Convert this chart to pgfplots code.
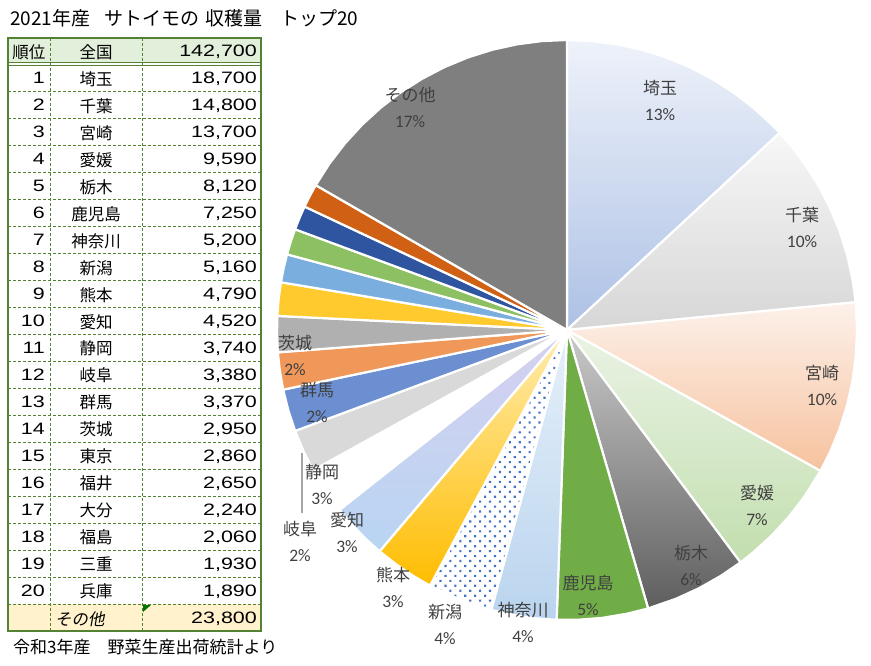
\documentclass[border=0pt]{standalone}
\usepackage{fontspec}
\setmainfont{Noto Sans CJK JP}
\newfontfamily\cjkslant[FakeSlant=0.18]{Noto Sans CJK JP}
\newfontfamily\numf{Liberation Sans}
\newfontfamily\pctf{Carlito}
\usepackage{graphicx}
\usepackage{pgfplots}
\pgfplotsset{compat=1.18}
\usepgfplotslibrary{polar}
\usetikzlibrary{patterns.meta}

\definecolor{tgreen}{HTML}{548235}
\definecolor{thead}{HTML}{E2EFDA}
\definecolor{tother}{HTML}{FFF2CC}
\definecolor{labc}{HTML}{404040}
\definecolor{dotc}{HTML}{4472C4}
\definecolor{aT}{HTML}{EEF2FA}\definecolor{aB}{HTML}{ADC1E5}
\definecolor{bT}{HTML}{F7F7F7}\definecolor{bB}{HTML}{D6D6D6}
\definecolor{cT}{HTML}{FDF1EA}\definecolor{cB}{HTML}{F6C29E}
\definecolor{dT}{HTML}{EAF3E5}\definecolor{dB}{HTML}{C2DEAE}
\definecolor{eT}{HTML}{CACACA}\definecolor{eB}{HTML}{5E5E5E}
\definecolor{fS}{HTML}{70AD47}
\definecolor{gT}{HTML}{E6F0FA}\definecolor{gB}{HTML}{BAD4EE}
\definecolor{iT}{HTML}{FFEDB0}\definecolor{iB}{HTML}{FFBD00}
\definecolor{jT}{HTML}{D6D0F0}\definecolor{jB}{HTML}{B8D5F2}
\definecolor{lS}{HTML}{D9D9D9}
\definecolor{mS}{HTML}{6B8FD0}
\definecolor{nS}{HTML}{F0975A}
\definecolor{oS}{HTML}{B0B0B0}
\definecolor{pS}{HTML}{FFCA2E}
\definecolor{qS}{HTML}{7AAEDE}
\definecolor{rS}{HTML}{8CC063}
\definecolor{sS}{HTML}{2F55A1}
\definecolor{tS}{HTML}{D06014}
\definecolor{uS}{HTML}{7F7F7F}
\definecolor{leadc}{HTML}{A6A6A6}

\newcommand\tnum[1]{\scalebox{1.3}[1]{\numf #1}}
\newcommand\tfont{\fontsize{16.5}{18}\selectfont}

\pgfplotsset{pieslice/.style={draw=white, line width=2.2pt, line join=round, mark=none}}

\begin{document}
\begin{tikzpicture}[x=1pt,y=1pt]
\path[use as bounding box] (0,0) rectangle (871,665);

% ---- pie (angle, radius)
\begin{polaraxis}[at={(277pt,45pt)}, anchor=south west, width=580pt, height=580pt, scale only axis,
  xmin=0, xmax=360, ymin=0, ymax=1, hide axis, clip=false]
% 埼玉 18700
\addplot[pieslice, top color=aT, bottom color=aB] coordinates {(0,0) (90,1) (85,1) (80,1) (75,1) (70,1) (65,1) (60,1) (55,1) (50,1) (45,1) (42.824,1) (0,0)};
% 千葉 14800
\addplot[pieslice, top color=bT, bottom color=bB] coordinates {(0,0) (42.824,1) (40,1) (35,1) (30,1) (25,1) (20,1) (15,1) (10,1) (5.487,1) (0,0)};
% 宮崎 13700
\addplot[pieslice, top color=cT, bottom color=cB] coordinates {(0,0) (5.487,1) (0,1) (355,1) (350,1) (345,1) (340,1) (335,1) (330.925,1) (0,0)};
% 愛媛 9590
\addplot[pieslice, top color=dT, bottom color=dB] coordinates {(0,0) (330.925,1) (325,1) (320,1) (315,1) (310,1) (306.731,1) (0,0)};
% 栃木 8120
\addplot[pieslice, top color=eT, bottom color=eB] coordinates {(0,0) (306.731,1) (302,1) (297,1) (292,1) (286.246,1) (0,0)};
% 鹿児島 7250
\addplot[pieslice, fill=fS] coordinates {(0,0) (286.246,1) (282,1) (277,1) (272,1) (267.956,1) (0,0)};
% 神奈川 5200
\addplot[pieslice, top color=gT, bottom color=gB] coordinates {(0,0) (267.956,1) (264,1) (260,1) (254.838,1) (0,0)};
% 新潟 5160
\addplot[pieslice, fill=white, postaction={pattern={Dots[distance=7pt, radius=1.5pt, angle=45]}, pattern color=dotc}] coordinates {(0,0) (254.838,1) (251,1) (246,1) (241.820,1) (0,0)};
% 熊本 4790
\addplot[pieslice, top color=iT, bottom color=iB] coordinates {(0,0) (241.820,1) (238,1) (234,1) (229.736,1) (0,0)};
% 愛知 4520
\addplot[pieslice, top color=jT, bottom color=jB] coordinates {(0,0) (229.736,1) (226,1) (222,1) (218.333,1) (0,0)};
% 静岡 3740
\addplot[pieslice, fill=white] coordinates {(0,0) (218.333,1) (214,1) (208.898,1) (0,0)};
% 岐阜 3380
\addplot[pieslice, fill=lS] coordinates {(0,0) (208.898,1) (205,1) (200.371,1) (0,0)};
% 群馬 3370
\addplot[pieslice, fill=mS] coordinates {(0,0) (200.371,1) (196,1) (191.869,1) (0,0)};
% 茨城 2950
\addplot[pieslice, fill=nS] coordinates {(0,0) (191.869,1) (188,1) (184.427,1) (0,0)};
% 東京 2860
\addplot[pieslice, fill=oS] coordinates {(0,0) (184.427,1) (181,1) (177.212,1) (0,0)};
% 福井 2650
\addplot[pieslice, fill=pS] coordinates {(0,0) (177.212,1) (174,1) (170.527,1) (0,0)};
% 大分 2240
\addplot[pieslice, fill=qS] coordinates {(0,0) (170.527,1) (168,1) (164.876,1) (0,0)};
% 福島 2060
\addplot[pieslice, fill=rS] coordinates {(0,0) (164.876,1) (162,1) (159.679,1) (0,0)};
% 三重 1930
\addplot[pieslice, fill=sS] coordinates {(0,0) (159.679,1) (157,1) (154.810,1) (0,0)};
% 兵庫 1890
\addplot[pieslice, fill=tS] coordinates {(0,0) (154.810,1) (152.5,1) (150.042,1) (0,0)};
% その他 23800
\addplot[pieslice, fill=uS] coordinates {(0,0) (150.042,1) (145,1) (140,1) (135,1) (130,1) (125,1) (120,1) (115,1) (110,1) (105,1) (100,1) (95,1) (90,1) (0,0)};
\end{polaraxis}

\begin{scope}[y=-1pt, yshift=665pt]
% ---- title
\node[anchor=base west, inner sep=0] at (10,26) {\fontsize{19}{22}\selectfont 2021年産\hspace{14pt}サトイモの\hspace{6pt}収穫量\hspace{18pt}トップ20};

% ---- table
\fill[thead] (8,38) rectangle (261,63);
\fill[tother] (8,604) rectangle (261,631);
\foreach \k in {1,...,20}{
  \draw[tgreen, line width=0.9pt, dash pattern=on 3pt off 2pt] (8,{65+26.95*\k}) -- (261,{65+26.95*\k});
}
\draw[tgreen, line width=0.9pt] (8,62.3) -- (261,62.3);
\draw[tgreen, line width=0.9pt] (8,65.5) -- (261,65.5);
\draw[tgreen, line width=0.9pt, dash pattern=on 3pt off 2pt] (50,38) -- (50,631);
\draw[tgreen, line width=0.9pt, dash pattern=on 3pt off 2pt] (142,38) -- (142,631);
\draw[tgreen, line width=1.1pt] (8,38) rectangle (261,631);
\fill[green!45!black] (143,605) -- (151,605) -- (143,612) -- cycle;

\node[anchor=base, inner sep=0] at (29,59) {\tfont 順位};
\node[anchor=base, inner sep=0] at (96,59) {\tfont 全国};
\node[anchor=base east, inner sep=0] at (257,57) {\tfont\tnum{142,700}};

\foreach \rk/\pr/\va [count=\i] in {1/埼玉/{18,700},2/千葉/{14,800},3/宮崎/{13,700},4/愛媛/{9,590},5/栃木/{8,120},6/鹿児島/{7,250},7/神奈川/{5,200},8/新潟/{5,160},9/熊本/{4,790},10/愛知/{4,520},11/静岡/{3,740},12/岐阜/{3,380},13/群馬/{3,370},14/茨城/{2,950},15/東京/{2,860},16/福井/{2,650},17/大分/{2,240},18/福島/{2,060},19/三重/{1,930},20/兵庫/{1,890}}{
  \pgfmathsetmacro\yb{65+26.95*(\i-1)+19}
  \node[anchor=base east, inner sep=0] at (45,\yb) {\tfont\tnum{\rk}};
  \node[anchor=base, inner sep=0] at (96,\yb+1.5) {\tfont \pr};
  \node[anchor=base east, inner sep=0] at (257,\yb) {\tfont\tnum{\va}};
}
\node[anchor=base west, inner sep=0] at (55,625) {\tfont\cjkslant その他};
\node[anchor=base east, inner sep=0] at (257,623) {\tfont\tnum{23,800}};

% ---- footer
\node[anchor=base west, inner sep=0] at (13,653) {\fontsize{17}{19}\selectfont 令和3年産　野菜生産出荷統計より};

% ---- pie labels
\draw[leadc, line width=1.2pt] (302,453) -- (302,513);
\newcommand\lbl[4]{%
  \node[text=labc, inner sep=0] at (#1,#2) {\fontsize{17}{19}\selectfont #3};
  \node[text=labc, inner sep=0] at (#1,#2+27) {\pctf\fontsize{17.5}{19}\selectfont #4};}
\lbl{660}{88}{埼玉}{13\%}
\lbl{802}{215}{千葉}{10\%}
\lbl{822}{373}{宮崎}{10\%}
\lbl{757}{493}{愛媛}{7\%}
\lbl{691}{553}{栃木}{6\%}
\lbl{588}{583}{鹿児島}{5\%}
\lbl{523}{610}{神奈川}{4\%}
\lbl{445}{612}{新潟}{4\%}
\lbl{393}{575}{熊本}{3\%}
\lbl{347}{520}{愛知}{3\%}
\lbl{322}{472}{静岡}{3\%}
\lbl{300}{529}{岐阜}{2\%}
\lbl{317}{390}{群馬}{2\%}
\lbl{295}{343}{茨城}{2\%}
\lbl{410}{95}{その他}{17\%}
\end{scope}
\end{tikzpicture}
\end{document}
